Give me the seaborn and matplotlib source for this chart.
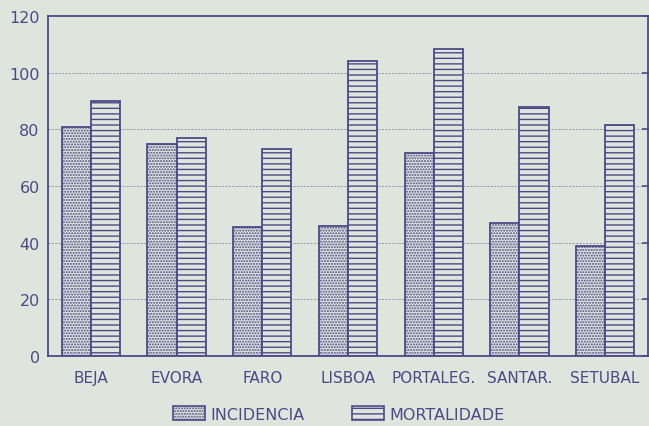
import matplotlib
matplotlib.use("Agg")
import matplotlib.pyplot as plt
import seaborn as sns
import pandas as pd
from matplotlib.patches import Patch

categories = ["BEJA", "EVORA", "FARO", "LISBOA", "PORTALEG.", "SANTAR.", "SETUBAL"]
incidencia = [81, 75, 45.5, 46, 71.5, 47, 39]
mortalidade = [90, 77, 73, 104, 108.5, 88, 81.5]
series_names = ["INCIDENCIA", "MORTALIDADE"]
y_ticks = [0, 20, 40, 60, 80, 100, 120]

navy = "#4b4a88"
bg = "#dfe4dc"

sns.set_style("white")
plt.rcParams["font.family"] = ["DejaVu Sans"]
plt.rcParams["hatch.color"] = navy
plt.rcParams["hatch.linewidth"] = 1.0

df = pd.DataFrame({
    "cat": categories * 2,
    "val": incidencia + mortalidade,
    "serie": [series_names[0]] * len(categories) + [series_names[1]] * len(categories),
})

fig = plt.figure(figsize=(6.49, 4.27), dpi=100, facecolor=bg)
ax = fig.add_axes([48 / 649, 1 - 357 / 427, 600 / 649, 340 / 427])
ax.set_facecolor(bg)

sns.barplot(data=df, x="cat", y="val", hue="serie", ax=ax, width=0.68,
            palette=[bg, bg], edgecolor=navy, linewidth=1.3, legend=False,
            saturation=1)

hatches = ["......", "---"]
for cont, h in zip(ax.containers, hatches):
    for bar in cont:
        bar.set_hatch(h)
        bar.set_edgecolor(navy)
        bar.set_facecolor(bg)

ax.set_ylim(0, 120)
ax.set_xlim(-0.5, 6.5)
ax.set_yticks(y_ticks)
ax.set_xlabel("")
ax.set_ylabel("")
for s in ax.spines.values():
    s.set_color(navy)
    s.set_linewidth(1.3)
    s.set_visible(True)

for y in y_ticks[1:-1]:
    ax.axhline(y, color=navy, linestyle=(0, (2, 1.5)), linewidth=0.7, alpha=0.55, zorder=0)

ax.tick_params(axis="y", which="both", direction="inout", length=8, width=1.2,
               color=navy, labelcolor=navy, labelsize=11.5, pad=2, right=True)
ax.tick_params(axis="x", length=0, labelcolor=navy, labelsize=11, pad=10)

handles = [Patch(facecolor=bg, edgecolor=navy, hatch=h, linewidth=1.2) for h in hatches]
fig.legend(handles, series_names, loc="center", bbox_to_anchor=(0.522, 1 - 415 / 427),
           ncol=2, frameon=False, fontsize=11.5, labelcolor=navy,
           handlelength=2.0, handleheight=0.9, handletextpad=0.3, columnspacing=3.0)

fig.savefig("out.png", dpi=100, facecolor=bg)
